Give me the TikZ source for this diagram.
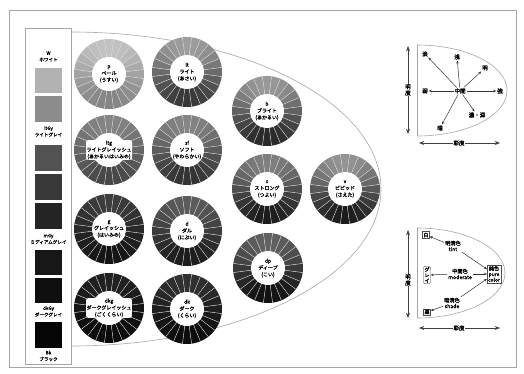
\documentclass[tikz,border=0pt]{standalone}
\usepackage{fontspec}
\setmainfont{Noto Sans CJK JP}[AutoFakeBold=1.6]
\usetikzlibrary{arrows.meta, positioning}

%% one tone wheel: name, x, y, top shade, bottom shade, label
\newcommand{\tonewheel}[6]{%
  \foreach \k in {0,...,23}{%
    \pgfmathsetmacro{\segA}{-97.5+15*\k}%
    \pgfmathsetmacro{\segP}{#4+(#5-#4)*(1+sin(\segA+7.5))/2}%
    \fill[black!\segP] (#2,#3) -- ++(\segA:35)
      arc[start angle=\segA, delta angle=15, radius=35] -- cycle;
  }%
  \foreach \k in {0,...,23}{%
    \pgfmathsetmacro{\segA}{-97.5+15*\k}%
    \draw[white!85!black, line width=0.4pt] (#2,#3) ++(\segA:17) -- ++(\segA:18);
  }%
  \fill[white] (#2,#3) circle[radius=17];
  \node[tonelabel] (#1) at (#2,#3) {#6};
}

\begin{document}
\begin{tikzpicture}[
  x=1pt, y=-1pt,
  every node/.style={font=\fontsize{5}{6.5}\selectfont},
  frameline/.style={draw=gray!70, line width=0.6pt},
  swatch/.style={minimum width=27pt, minimum height=25pt, inner sep=0pt},
  graylabel/.style={align=center, font=\fontsize{4.6}{6.5}\selectfont\bfseries},
  tonelabel/.style={align=center, fill=white, inner sep=0.5pt,
                    rounded corners=2pt, font=\fontsize{5}{6.8}\selectfont\bfseries},
  dirlabel/.style={inner sep=0.8pt, font=\fontsize{5.5}{6.5}\selectfont\bfseries},
  axislabel/.style={fill=white, inner sep=0.8pt, align=center,
                    font=\fontsize{5.5}{6.2}\selectfont\bfseries},
  endbox/.style={draw=black!70, line width=0.4pt, inner sep=1pt, align=center,
                 font=\fontsize{5}{5.6}\selectfont\bfseries},
  midlabel/.style={align=center, inner sep=0.8pt, font=\fontsize{5.2}{6}\selectfont\bfseries},
  axisarr/.style={Stealth-Stealth, draw=black!75, line width=0.5pt},
  arr/.style={-{Stealth[length=3pt, width=2.5pt]}, draw=black!80, line width=0.5pt}
]
\useasboundingbox (0,0) rectangle (524,374);

%% frames
\draw[frameline] (9,10) rectangle (516,367);
\draw[frameline] (25,28) rectangle (71,364);
\draw[frameline] (71,32) arc[start angle=-90, end angle=90, x radius=310, y radius=157];

%% achromatic scale
\foreach \n/\y/\h/\c in {1/80.5/25/30, 2/109/26/45, 3/158/26/68, 4/187/26/78,
                         5/216/26/86, 6/262.5/25/91, 7/290.5/25/94, 8/335/26/98}
  \node[swatch, minimum height=\h pt, fill=black!\c] (sw\n) at (48.5,\y) {};
\node[graylabel] (w)    at (48.5,56.5) {W\\ホワイト};
\node[graylabel] (ltgy) at (48.5,131.5) {ltGy\\ライトグレイ};
\node[graylabel] (mgy)  at (48.5,239) {mGy\\ミディアムグレイ};
\node[graylabel] (dkgy) at (48.5,311.5) {dkGy\\ダークグレイ};
\node[graylabel] (bk)   at (48.5,356) {Bk\\ブラック};

%% tone wheels
\tonewheel{p}{109}{74}{24}{48}{p\\ペール\\(うすい)}
\tonewheel{lt}{187}{72}{38}{78}{lt\\ライト\\(あさい)}
\tonewheel{ltg}{109}{150}{48}{72}{ltg\\ライトグレイッシュ\\(あかるいはいみの)}
\tonewheel{sf}{187}{150}{48}{80}{sf\\ソフト\\(やわらかい)}
\tonewheel{g}{109}{229}{76}{92}{g\\グレイッシュ\\(はいみの)}
\tonewheel{d}{187}{231}{64}{89}{d\\ダル\\(にぶい)}
\tonewheel{dkg}{109}{308}{87}{96}{dkg\\ダークグレイッシュ\\(ごくくらい)}
\tonewheel{dk}{187}{309}{81}{95}{dk\\ダーク\\(くらい)}
\tonewheel{b}{267}{111}{40}{84}{b\\ブライト\\(あかるい)}
\tonewheel{s}{267}{189}{50}{89}{s\\ストロング\\(つよい)}
\tonewheel{dp}{268}{268}{62}{93}{dp\\ディープ\\(こい)}
\tonewheel{v}{345}{189}{42}{89}{v\\ビビッド\\(さえた)}

%% tone directions (top right)
\draw[frameline] (417,45) arc[start angle=-90, end angle=90, x radius=90, y radius=45.5];
\draw[frameline] (417,45) -- (417,136);
\coordinate (ua) at (408,46);
\coordinate (ub) at (408,134);
\draw[axisarr] (ua) -- (ub);
\node[axislabel] (ulab) at (408,90) {明\\度};
\coordinate (ha) at (419,143);
\coordinate (hb) at (500,143);
\draw[axisarr] (ha) -- (hb);
\node[axislabel] (hlab) at (459,143) {彩度};

\node[dirlabel] (chukan) at (460,91) {中間};
\node[dirlabel] (tan)    at (425,54) {淡};
\node[dirlabel] (sen)    at (457,57) {浅};
\node[dirlabel] (mei)    at (485,68) {明};
\node[dirlabel] (jaku)   at (425,91) {弱};
\node[dirlabel] (kyo)    at (500,91) {強};
\node[dirlabel] (an)     at (440,128) {暗};
\node[dirlabel] (noshin) at (477,115) {濃・深};
\foreach \t in {tan,sen,mei,jaku,kyo,an,noshin}
  \draw[arr] (chukan) -- (\t);

%% tone groups (bottom right)
\draw[frameline] (417,228) arc[start angle=-90, end angle=90, x radius=88, y radius=45];
\draw[frameline] (417,228) -- (417,318);
\coordinate (va) at (408,230);
\coordinate (vb) at (408,318);
\draw[axisarr] (va) -- (vb);
\node[axislabel] (vlab) at (408,280) {明\\度};
\coordinate (wa) at (419,328);
\coordinate (wb) at (500,328);
\draw[axisarr] (wa) -- (wb);
\node[axislabel] (wlab) at (459,328) {彩度};

\node[endbox] (shiro) at (426,235) {白};
\node[endbox, rounded corners=2pt] (gurei) at (427,275) {グ\\レ\\イ};
\node[endbox] (kuro)  at (427,312) {黒};
\node[endbox] (pure)  at (494,274) {純色\\pure\\color};
\node[midlabel] (tint)     at (453,246) {明清色\\tint};
\node[midlabel] (moderate) at (460,274) {中間色\\moderate};
\node[midlabel] (shade)    at (452,303) {暗清色\\shade};
\foreach \a/\b in {tint/shiro,tint/pure,moderate/gurei,moderate/pure,shade/kuro,shade/pure}
  \draw[arr] (\a) -- (\b);
\end{tikzpicture}
\end{document}
